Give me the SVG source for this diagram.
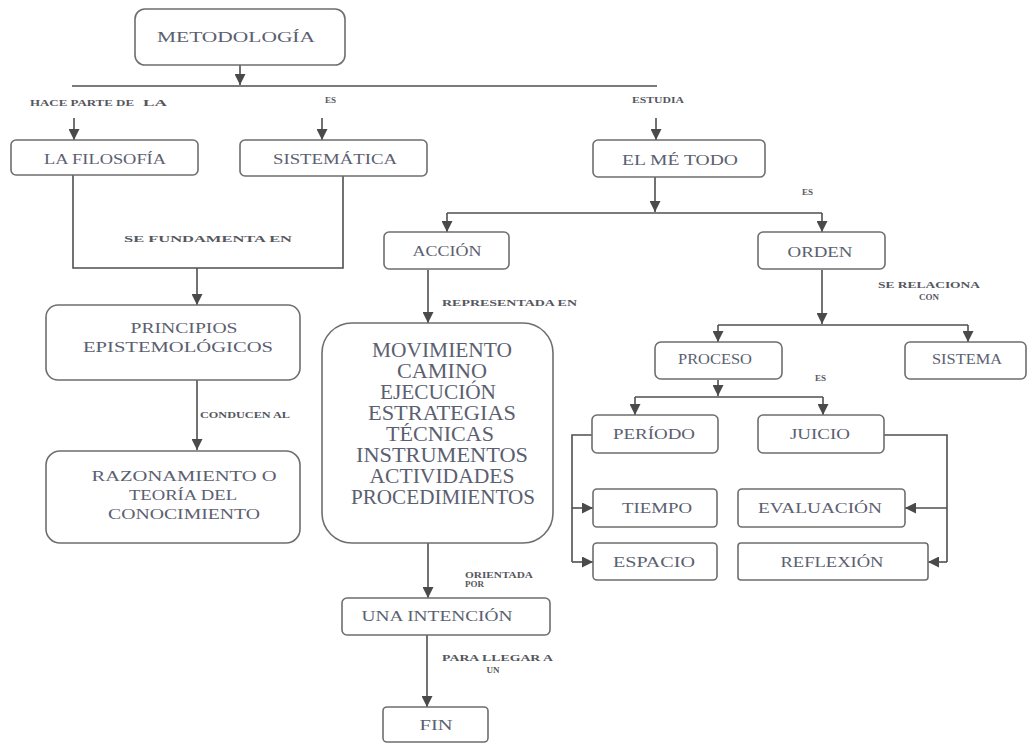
<svg xmlns="http://www.w3.org/2000/svg" width="1028" height="744" viewBox="0 0 1028 744">
<defs>
<marker id="ah" markerUnits="userSpaceOnUse" markerWidth="11" markerHeight="11" refX="10" refY="5" orient="auto" viewBox="0 0 10 10">
<path d="M0,0 L10,5 L0,10 z" fill="#4a4a4a"/>
</marker>
<style>
.box{fill:#fff;stroke:#6e6e6e;stroke-width:1.6}
.t{font-family:"Liberation Serif","Times New Roman",serif;font-size:15px;fill:#5b6070;text-anchor:middle}
.b{font-family:"Liberation Serif","Times New Roman",serif;font-size:20px;fill:#5b6070;text-anchor:middle}
.s{font-family:"Liberation Serif","Times New Roman",serif;font-size:9px;font-weight:bold;fill:#55575e}
.c{fill:none;stroke:#4f4f4f;stroke-width:1.6}
.a{fill:none;stroke:#4f4f4f;stroke-width:1.6;marker-end:url(#ah)}
</style>
</defs>
<rect width="1028" height="744" fill="#fff"/>

<g id="connectors">
<path class="a" d="M240 65 V85"/>
<path class="c" d="M72 86 H657"/>
<path class="a" d="M74 118 V140"/>
<path class="a" d="M322 118 V140"/>
<path class="a" d="M656 118 V140"/>
<path class="c" d="M73 175 V268 H343 V175"/>
<path class="a" d="M197 268 V305"/>
<path class="a" d="M197 380 V450"/>
<path class="a" d="M655 177 V212"/>
<path class="c" d="M447 213 H822"/>
<path class="a" d="M447 213 V232"/>
<path class="a" d="M822 213 V232"/>
<path class="a" d="M428 270 V323"/>
<path class="a" d="M822 270 V324"/>
<path class="c" d="M718 325 H968"/>
<path class="a" d="M718 325 V342"/>
<path class="a" d="M968 325 V342"/>
<path class="a" d="M718 380 V396"/>
<path class="c" d="M635 397 H823"/>
<path class="a" d="M635 397 V415"/>
<path class="a" d="M823 397 V415"/>
<path class="c" d="M592 435 H572 V562"/>
<path class="a" d="M572 508 H593"/>
<path class="a" d="M572 562 H593"/>
<path class="c" d="M884 435 H947 V562"/>
<path class="a" d="M947 508 H905"/>
<path class="a" d="M947 562 H928"/>
<path class="a" d="M428 543 V598"/>
<path class="a" d="M427 635 V707"/>
</g>

<g id="labels">
<text class="s" x="30" y="106" textLength="104" lengthAdjust="spacingAndGlyphs">HACE PARTE DE</text>
<text class="s" x="143" y="106" font-size="13" textLength="24" lengthAdjust="spacingAndGlyphs">LA</text>
<text class="s" x="325" y="103">ES</text>
<text class="s" x="632" y="103" textLength="52" lengthAdjust="spacingAndGlyphs">ESTUDIA</text>
<text class="s" x="124" y="242" textLength="168" lengthAdjust="spacingAndGlyphs">SE FUNDAMENTA EN</text>
<text class="s" x="200" y="418" textLength="90" lengthAdjust="spacingAndGlyphs">CONDUCEN AL</text>
<text class="s" x="802" y="195">ES</text>
<text class="s" x="442" y="306" textLength="135" lengthAdjust="spacingAndGlyphs">REPRESENTADA EN</text>
<text class="s" x="878" y="288" textLength="102" lengthAdjust="spacingAndGlyphs">SE RELACIONA</text>
<text class="s" x="929" y="300" text-anchor="middle">CON</text>
<text class="s" x="815" y="381">ES</text>
<text class="s" x="465" y="578" font-size="8" textLength="68" lengthAdjust="spacingAndGlyphs">ORIENTADA</text>
<text class="s" x="465" y="587" font-size="7">POR</text>
<text class="s" x="442" y="661" textLength="111" lengthAdjust="spacingAndGlyphs">PARA LLEGAR A</text>
<text class="s" x="493" y="673" text-anchor="middle">UN</text>
</g>

<g id="n-metodologia">
<rect class="box" x="135" y="9" width="210" height="56" rx="10"/>
<text class="t" x="236" y="42" font-size="16" textLength="158" lengthAdjust="spacingAndGlyphs">METODOLOGÍA</text>
</g>
<g id="n-filosofia">
<rect class="box" x="11" y="140" width="187" height="35" rx="5"/>
<text class="t" x="105" y="164" textLength="122" lengthAdjust="spacingAndGlyphs">LA FILOSOFÍA</text>
</g>
<g id="n-sistematica">
<rect class="box" x="240" y="140" width="187" height="36" rx="5"/>
<text class="t" x="335" y="164" textLength="124" lengthAdjust="spacingAndGlyphs">SISTEMÁTICA</text>
</g>
<g id="n-metodo">
<rect class="box" x="593" y="140" width="172" height="37" rx="5"/>
<text class="t" x="680" y="165" textLength="116" lengthAdjust="spacingAndGlyphs">EL MÉ TODO</text>
</g>
<g id="n-principios">
<rect class="box" x="46" y="305" width="254" height="75" rx="12"/>
<text class="t" x="184" y="333" textLength="107" lengthAdjust="spacingAndGlyphs">PRINCIPIOS</text>
<text class="t" x="178" y="352" textLength="190" lengthAdjust="spacingAndGlyphs">EPISTEMOLÓGICOS</text>
</g>
<g id="n-razonamiento">
<rect class="box" x="46" y="451" width="254" height="92" rx="14"/>
<text class="t" x="184" y="481" textLength="185" lengthAdjust="spacingAndGlyphs">RAZONAMIENTO  O</text>
<text class="t" x="183" y="500" textLength="108" lengthAdjust="spacingAndGlyphs">TEORÍA DEL</text>
<text class="t" x="184" y="519" textLength="152" lengthAdjust="spacingAndGlyphs">CONOCIMIENTO</text>
</g>
<g id="n-accion">
<rect class="box" x="384" y="232" width="125" height="37" rx="5"/>
<text class="t" x="447" y="256" textLength="69" lengthAdjust="spacingAndGlyphs">ACCIÓN</text>
</g>
<g id="n-orden">
<rect class="box" x="758" y="232" width="127" height="37" rx="5"/>
<text class="t" x="820" y="257" textLength="65" lengthAdjust="spacingAndGlyphs">ORDEN</text>
</g>
<g id="n-movimiento">
<rect class="box" x="322" y="323" width="231" height="220" rx="30"/>
<text class="b" x="442" y="357" textLength="140" lengthAdjust="spacingAndGlyphs">MOVIMIENTO</text>
<text class="b" x="442" y="378" textLength="90" lengthAdjust="spacingAndGlyphs">CAMINO</text>
<text class="b" x="438" y="399" textLength="116" lengthAdjust="spacingAndGlyphs">EJECUCIÓN</text>
<text class="b" x="442" y="420" textLength="148" lengthAdjust="spacingAndGlyphs">ESTRATEGIAS</text>
<text class="b" x="440" y="441" textLength="108" lengthAdjust="spacingAndGlyphs">TÉCNICAS</text>
<text class="b" x="442" y="462" textLength="172" lengthAdjust="spacingAndGlyphs">INSTRUMENTOS</text>
<text class="b" x="442" y="483" textLength="145" lengthAdjust="spacingAndGlyphs">ACTIVIDADES</text>
<text class="b" x="443" y="504" textLength="184" lengthAdjust="spacingAndGlyphs">PROCEDIMIENTOS</text>
</g>
<g id="n-proceso">
<rect class="box" x="655" y="342" width="127" height="37" rx="6"/>
<text class="t" x="715" y="364" font-size="13" textLength="74" lengthAdjust="spacingAndGlyphs">PROCESO</text>
</g>
<g id="n-sistema">
<rect class="box" x="905" y="342" width="121" height="37" rx="5"/>
<text class="t" x="967" y="364" font-size="13" textLength="70" lengthAdjust="spacingAndGlyphs">SISTEMA</text>
</g>
<g id="n-periodo">
<rect class="box" x="592" y="415" width="126" height="38" rx="5"/>
<text class="t" x="654" y="439" textLength="82" lengthAdjust="spacingAndGlyphs">PERÍODO</text>
</g>
<g id="n-juicio">
<rect class="box" x="758" y="415" width="126" height="38" rx="5"/>
<text class="t" x="820" y="439" textLength="60" lengthAdjust="spacingAndGlyphs">JUICIO</text>
</g>
<g id="n-tiempo">
<rect class="box" x="593" y="489" width="124" height="38" rx="4"/>
<text class="t" x="657" y="513" textLength="70" lengthAdjust="spacingAndGlyphs">TIEMPO</text>
</g>
<g id="n-espacio">
<rect class="box" x="593" y="543" width="124" height="37" rx="4"/>
<text class="t" x="654" y="567" textLength="82" lengthAdjust="spacingAndGlyphs">ESPACIO</text>
</g>
<g id="n-evaluacion">
<rect class="box" x="738" y="489" width="167" height="38" rx="4"/>
<text class="t" x="820" y="513" textLength="124" lengthAdjust="spacingAndGlyphs">EVALUACIÓN</text>
</g>
<g id="n-reflexion">
<rect class="box" x="738" y="543" width="190" height="37" rx="3"/>
<text class="t" x="832" y="567" textLength="103" lengthAdjust="spacingAndGlyphs">REFLEXIÓN</text>
</g>
<g id="n-intencion">
<rect class="box" x="342" y="598" width="208" height="37" rx="5"/>
<text class="t" x="437" y="621" textLength="151" lengthAdjust="spacingAndGlyphs">UNA INTENCIÓN</text>
</g>
<g id="n-fin">
<rect class="box" x="383" y="707" width="105" height="35" rx="4"/>
<text class="t" x="436" y="730" textLength="33" lengthAdjust="spacingAndGlyphs">FIN</text>
</g>
</svg>
